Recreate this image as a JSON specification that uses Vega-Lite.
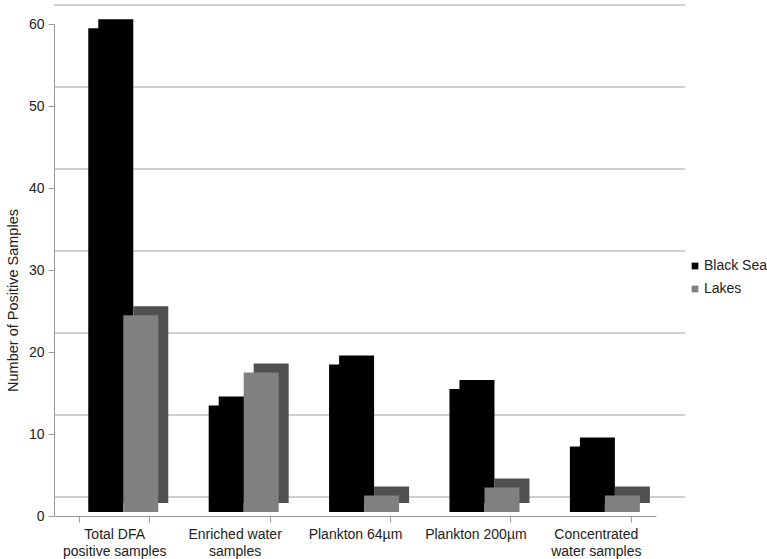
{
  "$schema": "https://vega.github.io/schema/vega-lite/v6.json",
  "width": 602,
  "height": 492,
  "autosize": {"type": "none"},
  "padding": {"left": 54, "top": 24, "right": 111, "bottom": 43},
  "background": "white",
  "config": {
    "font": "Liberation Sans",
    "view": {"stroke": null}
  },
  "datasets": {
    "bars": [
      {"category": "Total DFA positive samples", "site": "Black Sea", "count": 59},
      {"category": "Total DFA positive samples", "site": "Lakes", "count": 24},
      {"category": "Enriched water samples", "site": "Black Sea", "count": 13},
      {"category": "Enriched water samples", "site": "Lakes", "count": 17},
      {"category": "Plankton 64µm", "site": "Black Sea", "count": 18},
      {"category": "Plankton 64µm", "site": "Lakes", "count": 2},
      {"category": "Plankton 200µm", "site": "Black Sea", "count": 15},
      {"category": "Plankton 200µm", "site": "Lakes", "count": 3},
      {"category": "Concentrated water samples", "site": "Black Sea", "count": 8},
      {"category": "Concentrated water samples", "site": "Lakes", "count": 2}
    ],
    "grid": [{"v": 0}, {"v": 10}, {"v": 20}, {"v": 30}, {"v": 40}, {"v": 50}, {"v": 60}]
  },
  "layer": [
    {
      "data": {"name": "grid"},
      "mark": {"type": "rule", "color": "#a0a0a0", "strokeWidth": 1, "xOffset": 29, "yOffset": -19},
      "encoding": {
        "y": {
          "field": "v",
          "type": "quantitative",
          "scale": {"domain": [0, 60]},
          "axis": {
            "title": "Number of Positive Samples",
            "titleFontSize": 14.5,
            "titleFontWeight": "normal",
            "titleColor": "#222222",
            "titlePadding": 8,
            "titleY": 276,
            "values": [0, 10, 20, 30, 40, 50, 60],
            "labelFontSize": 14,
            "labelColor": "#222222",
            "labelPadding": 4,
            "domainColor": "#9a9a9a",
            "tickColor": "#9a9a9a",
            "tickSize": 6,
            "grid": false
          }
        }
      }
    },
    {
      "data": {"name": "bars"},
      "mark": {"type": "bar", "yOffset": -13, "y2Offset": -13},
      "encoding": {
        "x": {
          "field": "category",
          "type": "nominal",
          "sort": null,
          "scale": {"paddingInner": 0.42, "paddingOuter": 0.21},
          "axis": {
            "title": null,
            "labelAngle": 0,
            "labelFontSize": 14,
            "labelColor": "#222222",
            "labelPadding": 5,
            "labelLineHeight": 17,
            "domainColor": "#9a9a9a",
            "tickColor": "#9a9a9a",
            "tickSize": 6,
            "tickBand": "extent",
            "labelExpr": "datum.label == 'Total DFA positive samples' ? ['Total DFA', 'positive samples'] : datum.label == 'Enriched water samples' ? ['Enriched water', 'samples'] : datum.label == 'Concentrated water samples' ? ['Concentrated', 'water samples'] : datum.label"
          }
        },
        "xOffset": {"field": "site", "type": "nominal", "sort": ["Black Sea", "Lakes"], "scale": {"range": [19, 89]}},
        "y": {"field": "count", "type": "quantitative"},
        "color": {
          "field": "site",
          "type": "nominal",
          "scale": {"domain": ["Black Sea", "Lakes"], "range": ["#000000", "#505050"]},
          "legend": null
        }
      }
    },
    {
      "data": {"name": "bars"},
      "mark": {"type": "bar", "yOffset": -4, "y2Offset": -4},
      "encoding": {
        "x": {"field": "category", "type": "nominal", "sort": null},
        "xOffset": {"field": "site", "type": "nominal", "sort": ["Black Sea", "Lakes"], "scale": {"range": [9, 79]}},
        "y": {"field": "count", "type": "quantitative"},
        "fill": {
          "field": "site",
          "type": "nominal",
          "scale": {"domain": ["Black Sea", "Lakes"], "range": ["#000000", "#808080"]},
          "legend": {
            "title": null,
            "orient": "none",
            "legendX": 634,
            "legendY": 235,
            "symbolType": "square",
            "symbolSize": 45,
            "symbolStrokeWidth": 0,
            "labelFontSize": 14,
            "labelColor": "#222222",
            "rowPadding": 9,
            "labelOffset": 2
          }
        }
      }
    }
  ],
  "resolve": {"scale": {"color": "independent", "fill": "independent", "xOffset": "independent"}}
}
